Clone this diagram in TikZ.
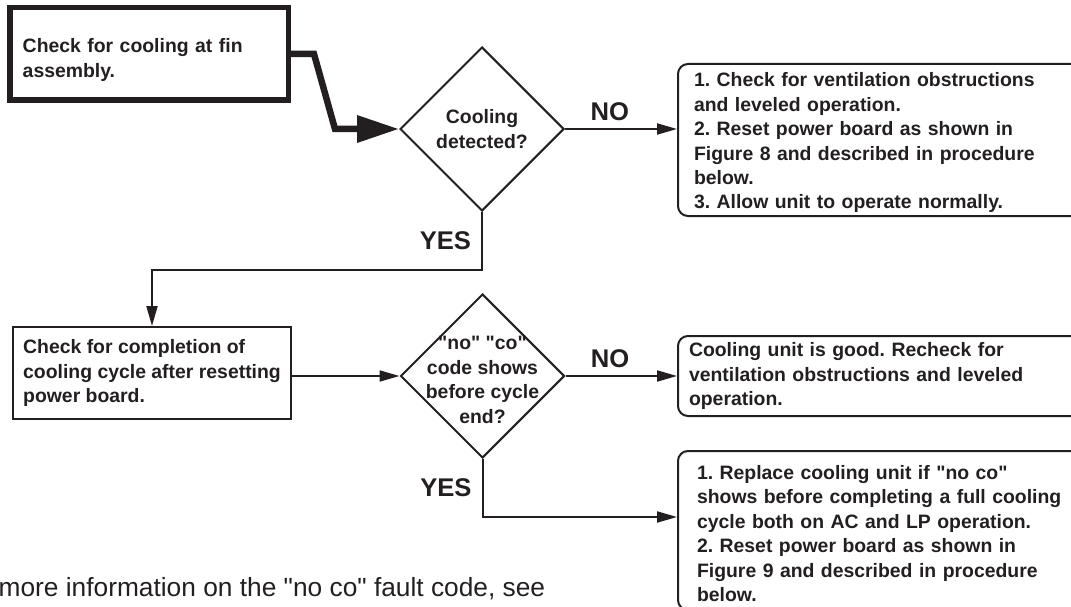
\documentclass[tikz,border=0pt]{standalone}
\usepackage{fontspec}
\setmainfont{Liberation Sans}
\usetikzlibrary{arrows.meta,shapes.geometric}
\definecolor{Ink}{HTML}{231F20}
\newcommand{\qd}[1]{\textquotedbl#1\textquotedbl}
\tikzset{stepbox/.style={draw=Ink,line width=2pt,align=left,text=Ink,inner ysep=0pt,
    font=\bfseries\fontsize{19.4}{24.4}\selectfont},
  startbox/.style={stepbox,line width=5.5pt},
  resultbox/.style={stepbox,rounded corners=10pt,anchor=west},
  decision/.style={diamond,draw=Ink,line width=2pt,aspect=1,inner sep=0pt,
    minimum width=164pt,minimum height=164pt},
  dtext/.style={align=center,text=Ink,inner sep=0pt,
    font=\bfseries\fontsize{19.4}{24.4}\selectfont},
  edge/.style={-{Triangle[length=20pt,width=11pt]},line width=2pt,draw=Ink},
  bigedge/.style={-{Triangle[length=42pt,width=26pt]},line width=6.5pt,draw=Ink},
  answer/.style={font=\bfseries\fontsize{25.6}{30}\selectfont,text=Ink,inner sep=0pt}}
\frenchspacing

\begin{document}
\begin{tikzpicture}[x=1pt,y=-1pt]
    \useasboundingbox (0,0) rectangle (1071,607);
    \clip (0,0) rectangle (1071,607);
    \node[startbox,text width=252.5pt,inner xsep=13pt,minimum height=92.5pt] (start) at (149,54)
      {\rule{0pt}{26pt}Check for cooling at fin\\assembly.};
    \node[decision,label={[dtext]center:{Cooling\\detected?}}] (cool) at (482,129) {};
    \node[resultbox,text width=376pt,inner xsep=16pt,minimum height=152pt] (nofix) at (677,140)
      {\rule{0pt}{20pt}1. Check for ventilation obstructions\\and leveled operation.\\2. Reset power board as shown in\\Figure 8 and described in procedure\\below.\\3. Allow unit to operate normally.};
    \node[stepbox,minimum width=278pt,minimum height=92pt] (test) at (152,373)
      {Check for completion of\\cooling cycle after resetting\\power board.};
    \node[decision,label={[dtext,yshift=-4pt]center:{\qd{no} \qd{co}\\code shows\\before cycle\\end?}}] (shows) at (482.5,376) {};
    \node[resultbox,text width=386pt,inner xsep=11pt,minimum height=80pt] (good) at (677,376)
      {Cooling unit is good. Recheck for\\ventilation obstructions and leveled\\operation.};
    \node[resultbox,text width=370pt,inner xsep=19pt,minimum height=159pt] (replace) at (677,530.5)
      {\rule{0pt}{20pt}1. Replace cooling unit if \qd{no co}\\shows before completing a full cooling\\cycle both on AC and LP operation.\\2. Reset power board as shown in\\Figure 9 and described in procedure\\below.};
    \node[anchor=base west,inner sep=0pt,text=Ink,font=\fontsize{26.3}{30}\selectfont] (note) at (-1.5,596)
      {more information on the \qd{no co} fault code, see};
    \draw[bigedge] (start.east) -- ++(23,0) -- ++(21,75) -- (cool.west);
    \draw[edge] (cool.east) -- node[answer,above=7pt,pos=0.4]{NO} (cool.east -| nofix.west);
    \draw[edge] (cool.south) -- node[answer,left=10pt]{YES} ++(0,58) -| (test.north);
    \draw[edge] (test.east |- shows.west) -- (shows.west);
    \draw[edge] (shows.east) -- node[answer,above=7pt,pos=0.4]{NO} (good.west);
    \draw[edge] (shows.south) -- node[answer,left=10pt]{YES} ++(0,58) coordinate (turn)
      -- (turn -| replace.west);
  \end{tikzpicture}
\end{document}
